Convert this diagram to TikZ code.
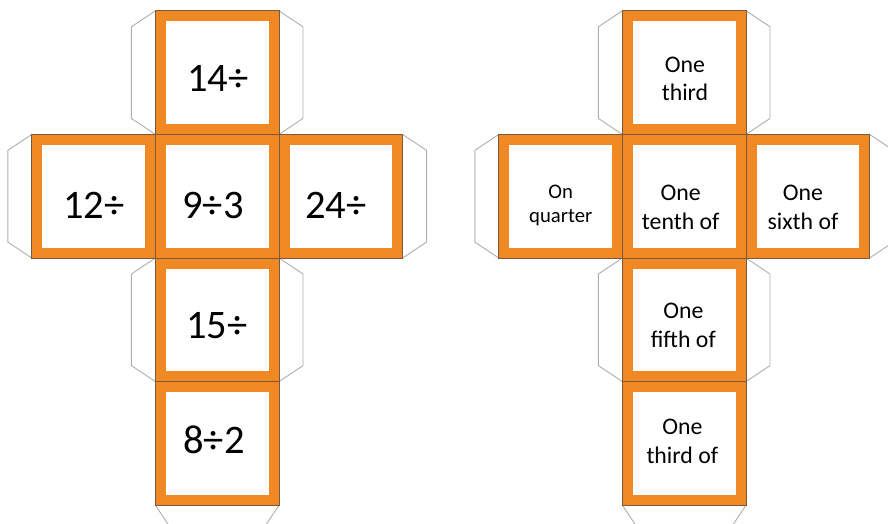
\documentclass[tikz,border=0pt]{standalone}
\usepackage{fontspec}
\setmainfont{Carlito}
\definecolor{cubeorange}{RGB}{240,136,36}
\definecolor{tabgray}{RGB}{175,175,175}
\definecolor{edgegray}{RGB}{120,90,60}
\tikzset{
  face/.style={fill=cubeorange, draw=edgegray, line width=0.8pt},
  inner/.style={fill=white, draw=none},
  tab/.style={fill=white, draw=tabgray, line width=0.9pt, line join=miter},
  bignum/.style={font=\fontsize{40.5}{48}\selectfont, anchor=base, inner sep=0pt},
  words/.style={font=\fontsize{23.8}{28.5}\selectfont, align=center, anchor=base, inner sep=0pt},
  smallwords/.style={font=\fontsize{20.7}{24.5}\selectfont, align=center, anchor=base, inner sep=0pt},
}
\newcommand{\sq}{123.6}
\newcommand{\bd}{10.5}
% face at (x,y) top-left
\newcommand{\cubeface}[3]{%
  \path[face] (#1,#2) rectangle ++(\sq,\sq);
  \path[inner] (#1+\bd,#2+\bd) rectangle (#1+\sq-\bd,#2+\sq-\bd);
  \coordinate (#3) at (#1+0.5*\sq,#2+0.5*\sq);
}
% tabs
\newcommand{\tabL}[2]{\draw[tab] (#1,#2) -- (#1-24,#2+16) -- (#1-24,#2+\sq-16) -- (#1,#2+\sq);}
\newcommand{\tabR}[2]{\draw[tab] (#1+\sq,#2) -- (#1+\sq+24,#2+16) -- (#1+\sq+24,#2+\sq-16) -- (#1+\sq,#2+\sq);}
\newcommand{\tabB}[2]{\draw[tab] (#1,#2+\sq) -- (#1+16,#2+\sq+24) -- (#1+\sq-16,#2+\sq+24) -- (#1+\sq,#2+\sq);}
\begin{document}
\begin{tikzpicture}[x=1pt,y=-1pt]
\useasboundingbox (0,0) rectangle (888,524);
\clip (0,0) rectangle (888,524);
\fill[white] (0,0) rectangle (888,524);
% ---------- left net ----------
\tabL{155.4}{10.8}
\tabR{155.4}{10.8}
\tabL{31.8}{134.4}
\tabR{279}{134.4}
\tabL{155.4}{258}
\tabR{155.4}{258}
\tabB{155.4}{381.6}
\cubeface{155.4}{10.8}{LT}
\cubeface{31.8}{134.4}{LL}
\cubeface{155.4}{134.4}{LC}
\cubeface{279}{134.4}{LR}
\cubeface{155.4}{258}{LB}
\cubeface{155.4}{381.6}{LBB}
\node[bignum] (t14) at (218,91.7) {14÷};
\node[bignum] (t12) at (94,218) {12÷};
\node[bignum] (t93) at (213,218) {9÷3};
\node[bignum] (t24) at (336,218) {24÷};
\node[bignum] (t15) at (216.7,338) {15÷};
\node[bignum] (t82) at (214,453) {8÷2};
% ---------- right net ----------
\tabL{622.4}{10.8}
\tabR{622.4}{10.8}
\tabL{498.8}{134.4}
\tabR{746}{134.4}
\tabL{622.4}{258}
\tabR{622.4}{258}
\tabB{622.4}{381.6}
\cubeface{622.4}{10.8}{RT}
\cubeface{498.8}{134.4}{RL}
\cubeface{622.4}{134.4}{RC}
\cubeface{746}{134.4}{RR}
\cubeface{622.4}{258}{RB}
\cubeface{622.4}{381.6}{RBB}
\node[words] (w1) at (685,101) {One\\third};
\node[smallwords] (w2) at (560.7,222.7) {On\\quarter};
\node[words] (w3) at (680.7,229.3) {One\\tenth of};
\node[words] (w4) at (803,229.3) {One\\sixth of};
\node[words] (w5) at (683.3,347.3) {One\\fifth of};
\node[words] (w6) at (682.3,463.3) {One\\third of};
\end{tikzpicture}
\end{document}
